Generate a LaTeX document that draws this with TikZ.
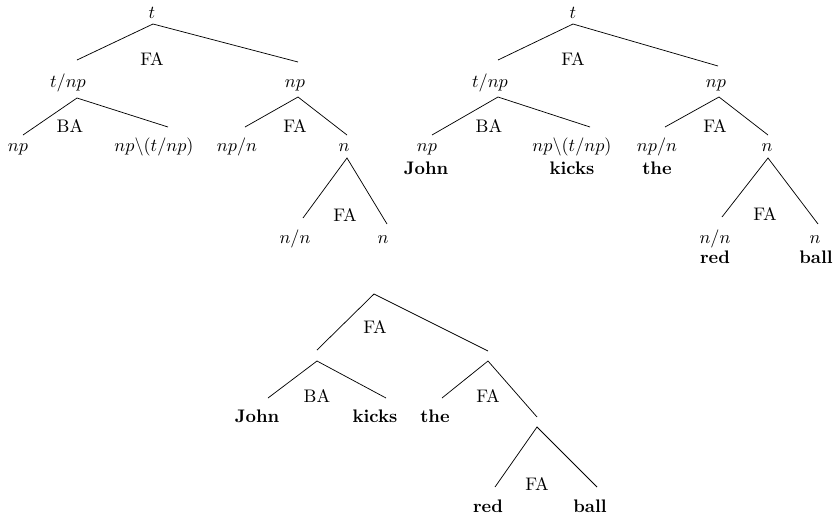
\documentclass[tikz,border=0pt]{standalone}
\begin{document}
\begin{tikzpicture}[x=0.55pt,y=-0.55pt,
  lbl/.style={inner sep=0pt,anchor=base},
  edge/.style={line width=0.4pt}]
\useasboundingbox (0,0) rectangle (834,518);
% ---------- Tree 1 ----------
\node[lbl] (t1) at (152,18) {$t$};
\coordinate (a1) at (153,24); \coordinate (a1l) at (77,60); \coordinate (a1r) at (298,62);
\node[lbl] (fa1) at (152,65) {FA};
\node[lbl] (tnp1) at (68,87) {$t/np$};
\coordinate (b1) at (77,98); \coordinate (b1l) at (23,135); \coordinate (b1r) at (168,127);
\node[lbl] (ba1) at (70,132) {BA};
\node[lbl] (np1) at (18,151) {$np$};
\node[lbl] (vp1) at (154,151) {$np\backslash(t/np)$};
\node[lbl] (obj1) at (295,87) {$np$};
\coordinate (c1) at (298,97); \coordinate (c1l) at (245,127); \coordinate (c1r) at (347,135);
\node[lbl] (fa1b) at (295,132) {FA};
\node[lbl] (det1) at (237,151) {$np/n$};
\node[lbl] (n1) at (344,151) {$n$};
\coordinate (d1) at (347,158); \coordinate (d1l) at (303,218); \coordinate (d1r) at (387,224);
\node[lbl] (fa1c) at (345,221) {FA};
\node[lbl] (adj1) at (295,243) {$n/n$};
\node[lbl] (nn1) at (383,243) {$n$};
\draw[edge] (a1l) -- (a1) -- (a1r);
\draw[edge] (b1l) -- (b1) -- (b1r);
\draw[edge] (c1l) -- (c1) -- (c1r);
\draw[edge] (d1l) -- (d1) -- (d1r);
% ---------- Tree 2 ----------
\node[lbl] (t2) at (573,18) {$t$};
\coordinate (a2) at (573,24); \coordinate (a2l) at (498,60); \coordinate (a2r) at (718,66);
\node[lbl] (fa2) at (573,65) {FA};
\node[lbl] (tnp2) at (490,87) {$t/np$};
\coordinate (b2) at (498,97); \coordinate (b2l) at (432,135); \coordinate (b2r) at (590,127);
\node[lbl] (ba2) at (489,132) {BA};
\node[lbl] (np2) at (427,151) {$np$};
\node[lbl] (john2) at (426,174) {\textbf{John}};
\node[lbl] (vp2) at (572,151) {$np\backslash(t/np)$};
\node[lbl] (kicks2) at (572,174) {\textbf{kicks}};
\node[lbl] (obj2) at (716,87) {$np$};
\coordinate (c2) at (719,97); \coordinate (c2l) at (665,127); \coordinate (c2r) at (768,135);
\node[lbl] (fa2b) at (715,132) {FA};
\node[lbl] (det2) at (657,151) {$np/n$};
\node[lbl] (the2) at (657,174) {\textbf{the}};
\node[lbl] (n2) at (767,151) {$n$};
\coordinate (d2) at (768,158); \coordinate (d2l) at (722,217); \coordinate (d2r) at (818,224);
\node[lbl] (fa2c) at (765,220) {FA};
\node[lbl] (adj2) at (715,243) {$n/n$};
\node[lbl] (red2) at (715,263) {\textbf{red}};
\node[lbl] (nn2) at (815,243) {$n$};
\node[lbl] (ball2) at (816,263) {\textbf{ball}};
\draw[edge] (a2l) -- (a2) -- (a2r);
\draw[edge] (b2l) -- (b2) -- (b2r);
\draw[edge] (c2l) -- (c2) -- (c2r);
\draw[edge] (d2l) -- (d2) -- (d2r);
% ---------- Tree 3 ----------
\coordinate (a3) at (374,294); \coordinate (a3l) at (317,350); \coordinate (a3r) at (488,351);
\node[lbl] (fa3) at (375,333) {FA};
\coordinate (b3) at (317,361); \coordinate (b3l) at (268,398); \coordinate (b3r) at (386,398);
\node[lbl] (ba3) at (317,402) {BA};
\node[lbl] (john3) at (257,422) {\textbf{John}};
\node[lbl] (kicks3) at (375,422) {\textbf{kicks}};
\node[lbl] (the3) at (435,422) {\textbf{the}};
\coordinate (c3) at (488,361); \coordinate (c3l) at (442,398); \coordinate (c3r) at (537,417);
\node[lbl] (fa3b) at (488,402) {FA};
\coordinate (d3) at (537,427); \coordinate (d3l) at (495,487); \coordinate (d3r) at (597,487);
\node[lbl] (fa3c) at (537,490) {FA};
\node[lbl] (red3) at (488,512) {\textbf{red}};
\node[lbl] (ball3) at (590,512) {\textbf{ball}};
\draw[edge] (a3l) -- (a3) -- (a3r);
\draw[edge] (b3l) -- (b3) -- (b3r);
\draw[edge] (c3l) -- (c3) -- (c3r);
\draw[edge] (d3l) -- (d3) -- (d3r);
\end{tikzpicture}
\end{document}
